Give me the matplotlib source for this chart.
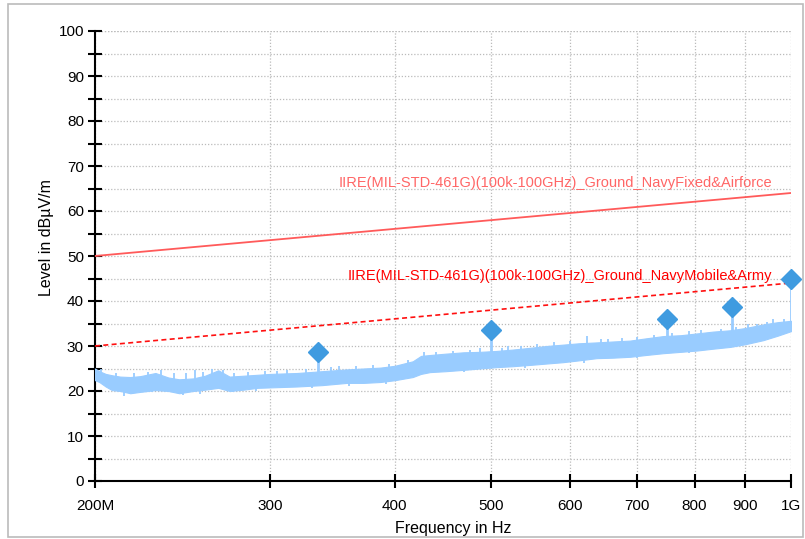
import matplotlib
matplotlib.use("Agg")
import matplotlib.pyplot as plt
from matplotlib.ticker import FixedLocator, NullFormatter
from matplotlib.patches import Rectangle
import numpy as np

# ---------------- data ----------------
noise_freq_mhz = [200, 202, 205, 208, 212, 217, 222, 230, 237, 243, 251, 258, 266, 273, 282, 291,
                  300, 319, 338, 358, 372, 387, 400, 417, 425, 434, 450, 469, 487, 506, 525, 547,
                  568, 590, 612, 638, 662, 689, 715, 744, 775, 805, 835, 869, 900, 938, 970, 1000]
noise_low = [22.4, 22.0, 21.0, 20.2, 20.0, 19.5, 19.8, 20.2, 20.0, 19.5, 20.0, 20.3, 20.7, 20.0, 20.3, 20.7,
             20.8, 21.0, 21.3, 21.8, 21.8, 22.0, 22.4, 23.1, 23.8, 24.2, 24.4, 24.7, 25.0, 25.3, 25.5, 25.8,
             26.1, 26.4, 26.8, 27.3, 27.4, 27.6, 28.0, 28.4, 28.7, 29.0, 29.4, 29.8, 30.4, 31.3, 32.3, 33.3]
noise_high = [25.0, 24.4, 23.8, 23.5, 23.2, 23.1, 23.3, 24.0, 23.0, 22.6, 22.8, 23.4, 24.6, 23.2, 23.4, 23.6,
              23.8, 24.0, 24.4, 24.8, 25.0, 25.2, 25.6, 26.6, 27.8, 28.0, 28.3, 28.6, 28.7, 28.9, 29.2, 29.6,
              30.0, 30.3, 30.6, 30.8, 31.0, 31.2, 31.7, 32.2, 32.4, 32.8, 33.2, 33.5, 34.0, 34.8, 35.3, 35.6]

# narrow peaks sticking out above the noise band (MHz, dBuV/m)
spike_freq_mhz = [203, 210, 219, 226, 233, 240, 247, 252, 257, 262, 269, 276, 285, 296, 305, 312,
                  326, 345, 352, 366, 380, 395, 404, 412, 428, 440, 458, 476, 487, 512, 520, 536,
                  556, 578, 600, 624, 645, 655, 676, 700, 728, 760, 790, 812, 850, 880, 905, 925,
                  945, 960, 985]
spike_top = [24.8, 24.0, 23.9, 24.2, 24.6, 24.0, 24.1, 24.6, 24.3, 24.8, 24.6, 24.1, 24.3, 24.4, 24.5, 24.7,
             24.9, 25.3, 25.6, 25.6, 25.8, 26.0, 25.8, 26.9, 28.6, 28.7, 28.9, 29.2, 29.6, 29.5, 29.9, 30.1,
             30.4, 30.9, 31.1, 32.2, 31.6, 31.6, 31.8, 31.9, 32.5, 33.0, 33.4, 33.6, 33.8, 34.3, 34.9, 35.0,
             35.4, 36.0, 36.1]
# narrow dips below the noise band
dip_freq_mhz = [214, 228, 245, 255, 275, 290, 330, 360, 392, 470, 540, 620, 700, 790, 880]
dip_bottom = [18.9, 19.7, 19.2, 19.4, 19.8, 20.0, 20.6, 21.2, 21.6, 24.2, 25.2, 26.2, 27.4, 28.5, 29.7]

peak_freq_mhz = [335, 500, 750, 873, 1000]
peak_level = [28.7, 33.6, 36.1, 38.6, 44.8]

limit_freq_mhz = [200, 1000]
limit_fixed_airforce = [50.0, 64.0]
limit_mobile_army = [30.0, 44.0]
label_fixed = "IIRE(MIL-STD-461G)(100k-100GHz)_Ground_NavyFixed&Airforce"
label_mobile = "IIRE(MIL-STD-461G)(100k-100GHz)_Ground_NavyMobile&Army"

xtick_mhz = [200, 300, 400, 500, 600, 700, 800, 900, 1000]
xtick_labels = ["200M", "300", "400", "500", "600", "700", "800", "900", "1G"]
ytick_major = [0, 10, 20, 30, 40, 50, 60, 70, 80, 90, 100]
ytick_minor = [5, 15, 25, 35, 45, 55, 65, 75, 85, 95]

# ---------------- plot ----------------
plt.rcParams['font.family'] = ['Liberation Sans', 'DejaVu Sans']
W, H = 805, 539
fig = plt.figure(figsize=(W / 100, H / 100), dpi=100)
ax = fig.add_axes([95 / W, 1 - 481 / H, (791 - 95) / W, (481 - 31) / H])

hz = lambda v: [x * 1e6 for x in v]

ax.set_xscale('log')
ax.set_xlim(200e6, 1000e6)
ax.set_ylim(0, 100)

trace_col = '#99CCFF'
ax.fill_between(hz(noise_freq_mhz), noise_low, noise_high, color=trace_col, lw=0.8,
                edgecolor=trace_col, zorder=3)
# spikes start inside the band (at its centre) and rise to the read peak value
mid_at = lambda f: np.interp(f, noise_freq_mhz, [(a + b) / 2 for a, b in zip(noise_low, noise_high)])
ax.vlines(hz(spike_freq_mhz), mid_at(spike_freq_mhz), spike_top, color=trace_col, lw=1.3, zorder=3)
ax.vlines(hz(dip_freq_mhz), dip_bottom, mid_at(dip_freq_mhz), color=trace_col, lw=1.3, zorder=3)
ax.vlines(hz(peak_freq_mhz), mid_at(peak_freq_mhz), peak_level, color=trace_col, lw=2.0, zorder=3)
ax.plot(hz(peak_freq_mhz), peak_level, linestyle='none', marker='D', ms=10,
        color='#3F9BE0', mec='#3F9BE0', zorder=5, clip_on=False)

ax.plot(hz(limit_freq_mhz), limit_fixed_airforce, color='#FF5A5A', lw=1.3, zorder=4)
ax.plot(hz(limit_freq_mhz), limit_mobile_army, color='#FF1010', lw=1.2, ls=(0, (3, 2)), zorder=4)

ax.text(958e6, 66.2, label_fixed, color='#FF6666', fontsize=10.5, ha='right', va='center', zorder=6)
ax.text(958e6, 45.5, label_mobile, color='#FF0000', fontsize=10.5, ha='right', va='center', zorder=6)

# axes styling
ax.xaxis.set_major_locator(FixedLocator(hz(xtick_mhz)))
ax.xaxis.set_minor_locator(FixedLocator([]))
ax.set_xticklabels(xtick_labels)
ax.xaxis.set_minor_formatter(NullFormatter())
ax.set_yticks(ytick_major)
ax.set_yticks(ytick_minor, minor=True)

for s in ['top', 'right']:
    ax.spines[s].set_visible(False)
for s in ['left', 'bottom']:
    ax.spines[s].set_linewidth(1.5)
    ax.spines[s].set_color('black')

ax.tick_params(axis='both', which='both', direction='inout', length=10, width=1.5, colors='black',
               labelsize=11)
ax.tick_params(axis='x', pad=8)
ax.tick_params(axis='y', pad=3)

ax.grid(True, which='both', axis='y', color='#BBBBBB', ls=(0, (1, 1.5)), lw=0.9, zorder=0)
ax.grid(True, which='major', axis='x', color='#BBBBBB', ls=(0, (1, 1.5)), lw=0.9, zorder=0)
ax.axhline(100, color='#BBBBBB', ls=(0, (1, 1.5)), lw=0.9, zorder=0)

fig.text(453 / W, 1 - 528 / H, "Frequency in Hz", fontsize=11.5, ha='center', va='center')
fig.text(46 / W, 1 - 238 / H, "Level in dBµV/m", fontsize=11.5, ha='center', va='center', rotation=90)

fig.patches.append(Rectangle((8 / W, 1 - 537 / H), (803 - 8) / W, (537 - 4) / H,
                             transform=fig.transFigure, fill=False, edgecolor='#BBBBBB', lw=1.2))

fig.savefig('out.png', dpi=100)
